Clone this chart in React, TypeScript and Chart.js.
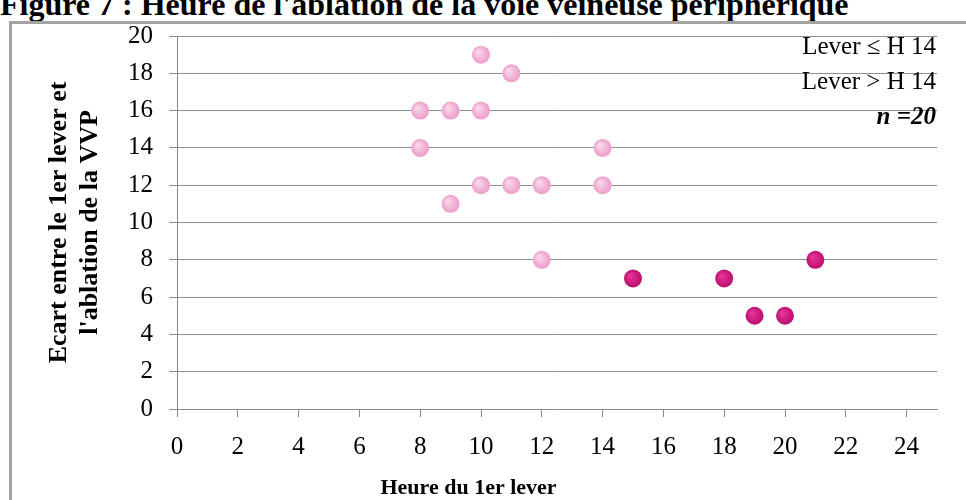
import React, { useEffect, useRef } from "react";
import { Chart, registerables } from "chart.js";

Chart.register(...registerables);

const figureTitle = "Figure 7 : Heure de l'ablation de la voie veineuse périphérique";
const xAxisTitle = "Heure du 1er lever";
const yAxisTitle = ["Ecart entre le 1er lever et", "l'ablation de la VVP"];
const seriesNames = ["Lever \u2264 H 14", "Lever > H 14"];
const sampleNote = "n =20";

const earlyHour = [8, 8, 9, 9, 10, 10, 10, 11, 11, 12, 12, 14, 14];
const earlyGap = [16, 14, 16, 11, 19, 16, 12, 18, 12, 12, 8, 14, 12];
const lateHour = [15, 18, 19, 20, 21];
const lateGap = [7, 7, 5, 5, 8];

const xTickValues = [0, 2, 4, 6, 8, 10, 12, 14, 16, 18, 20, 22, 24];
const yTickValues = [0, 2, 4, 6, 8, 10, 12, 14, 16, 18, 20];
const xMin = 0;
const xMax = 25;
const yMin = 0;
const yMax = 20;

const SERIF = "'Liberation Serif', 'Times New Roman', serif";

function gradientFill(inner: string, outer: string) {
  return (c: any) => {
    const chart = c.chart;
    const raw = c.raw;
    if (!raw || !chart.scales || !chart.scales.x) return outer;
    const px = chart.scales.x.getPixelForValue(raw.x);
    const py = chart.scales.y.getPixelForValue(raw.y);
    if (!isFinite(px) || !isFinite(py)) return outer;
    const g = chart.ctx.createRadialGradient(px - 3, py - 3, 1, px, py, 9);
    g.addColorStop(0, inner);
    g.addColorStop(1, outer);
    return g;
  };
}

export default function App() {
  const ref = useRef<HTMLCanvasElement | null>(null);

  useEffect(() => {
    if (!ref.current) return;
    const chart = new Chart(ref.current, {
      type: "scatter",
      data: {
        datasets: [
          {
            label: seriesNames[0],
            data: earlyHour.map((h, i) => ({ x: h, y: earlyGap[i] })),
            backgroundColor: gradientFill("#fad6ea", "#ec9cc9"),
            borderWidth: 0,
            pointRadius: 9,
            pointHoverRadius: 9,
          },
          {
            label: seriesNames[1],
            data: lateHour.map((h, i) => ({ x: h, y: lateGap[i] })),
            backgroundColor: gradientFill("#e8339a", "#b8106c"),
            borderWidth: 0,
            pointRadius: 9,
            pointHoverRadius: 9,
          },
        ],
      },
      options: {
        animation: false,
        responsive: false,
        devicePixelRatio: 1,
        layout: { padding: { left: 0, right: 29, top: 36, bottom: 0 } },
        plugins: {
          legend: { display: false },
          tooltip: { enabled: false },
          title: {
            display: true,
            position: "bottom",
            text: xAxisTitle,
            color: "#000",
            padding: 0,
            font: { family: SERIF, size: 22, weight: "bold", lineHeight: 24 / 22 },
          },
        },
        scales: {
          x: {
            type: "linear",
            min: xMin,
            max: xMax,
            ticks: {
              color: "#000",
              padding: 15,
              font: { family: SERIF, size: 25, lineHeight: 1.2 },
            },
            afterBuildTicks: (s: any) => {
              s.ticks = xTickValues.map((v) => ({ value: v }));
            },
            afterFit: (s: any) => {
              s.height = 67;
            },
            grid: {
              display: true,
              drawOnChartArea: false,
              drawTicks: true,
              tickLength: 8,
              color: "#8a8a8a",
            },
            border: { display: true, color: "#8a8a8a" },
          },
          y: {
            type: "linear",
            min: yMin,
            max: yMax,
            ticks: {
              color: "#000",
              padding: 16,
              font: { family: SERIF, size: 25, lineHeight: 1.2 },
            },
            afterBuildTicks: (s: any) => {
              s.ticks = yTickValues.map((v) => ({ value: v }));
            },
            afterFit: (s: any) => {
              s.width = 177;
            },
            grid: {
              display: true,
              drawOnChartArea: true,
              drawTicks: true,
              tickLength: 8,
              color: "#8f8f8f",
            },
            border: { display: true, color: "#8a8a8a" },
            title: {
              display: true,
              text: yAxisTitle,
              color: "#000",
              padding: { top: 44, bottom: 0 },
              font: { family: SERIF, size: 26, weight: "bold", lineHeight: 31 / 26 },
            },
          },
        },
      },
    });
    return () => chart.destroy();
  }, []);

  return (
    <div
      style={{
        position: "fixed",
        left: 0,
        top: 0,
        width: 966,
        height: 500,
        overflow: "hidden",
        background: "#fff",
      }}
    >
      <div
        style={{
          position: "absolute",
          left: 0,
          top: -12,
          fontFamily: SERIF,
          fontWeight: "bold",
          fontSize: 32,
          lineHeight: "32px",
          whiteSpace: "nowrap",
          color: "#000",
        }}
      >
        {figureTitle}
      </div>
      <div
        style={{
          position: "absolute",
          left: 9,
          top: 21,
          width: 1000,
          height: 520,
          borderTop: "3px solid #a3a3a3",
          borderLeft: "3px solid #a3a3a3",
          boxSizing: "border-box",
        }}
      />
      <canvas
        ref={ref}
        width={966}
        height={500}
        style={{ position: "absolute", left: 0, top: 0, width: 966, height: 500 }}
      />
      <div
        style={{
          position: "absolute",
          right: 30,
          top: 28,
          textAlign: "right",
          fontFamily: SERIF,
          fontSize: 25,
          lineHeight: "35px",
          color: "#000",
          whiteSpace: "nowrap",
        }}
      >
        <div>{seriesNames[0]}</div>
        <div>{seriesNames[1]}</div>
        <div style={{ fontWeight: "bold", fontStyle: "italic" }}>{sampleNote}</div>
      </div>
    </div>
  );
}
